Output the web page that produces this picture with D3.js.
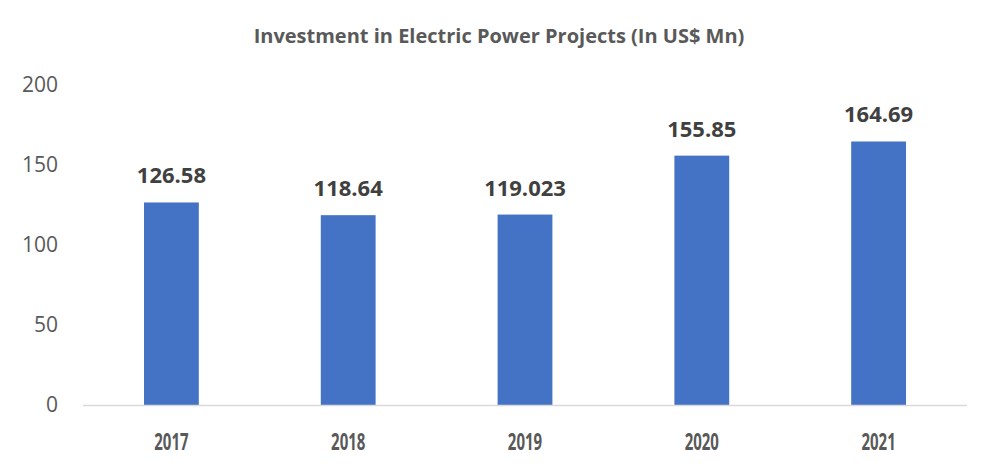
<!DOCTYPE html>
<html>
<head>
<meta charset="utf-8">
<script src="https://cdn.jsdelivr.net/npm/d3@7"></script>
<style>
  body { margin: 0; background: #fff; }
</style>
</head>
<body>
<script>
/*data*/
const years = ['2017', '2018', '2019', '2020', '2021'];
const investment = [126.58, 118.64, 119.023, 155.85, 164.69];
const valueLabels = ['126.58', '118.64', '119.023', '155.85', '164.69'];
const yTicks = [0, 50, 100, 150, 200];

/*canvas size*/
const width = 1000;
const height = 471;
const padding = { top: 85, bottom: 66, left: 83, right: 33 };

const svg = d3.select('body')
    .append('svg')
    .attr('width', width)
    .attr('height', height);

/*scales*/
const xScale = d3.scaleBand()
    .domain(years)
    .range([padding.left, width - padding.right])
    .paddingInner(0.69)
    .paddingOuter(0.345);

const yScale = d3.scaleLinear()
    .domain([0, 200])
    .range([height - padding.bottom, padding.top]);

/*title*/
svg.append('text')
    .attr('x', 499)
    .attr('y', 43)
    .attr('text-anchor', 'middle')
    .attr('font-family', 'Open Sans')
    .attr('font-weight', 700)
    .attr('font-size', 20)
    .attr('fill', '#595959')
    .text('Investment in Electric Power Projects (In US$ Mn)');

/*y axis labels (no line)*/
const yAxis = svg.append('g')
    .attr('transform', `translate(${padding.left}, 0)`)
    .call(d3.axisLeft(yScale).tickValues(yTicks).tickSize(0).tickPadding(25));
yAxis.select('.domain').remove();
yAxis.selectAll('text')
    .attr('font-family', 'Open Sans')
    .attr('font-size', 21)
    .attr('fill', '#595959');

/*bars*/
svg.append('g').selectAll('rect')
    .data(years)
    .enter().append('rect')
    .attr('x', d => xScale(d))
    .attr('y', (d, i) => yScale(investment[i]))
    .attr('width', xScale.bandwidth())
    .attr('height', (d, i) => yScale(0) - yScale(investment[i]))
    .attr('fill', '#4472C4');

/*x axis line*/
svg.append('line')
    .attr('x1', padding.left)
    .attr('x2', width - padding.right)
    .attr('y1', yScale(0) + 0.5)
    .attr('y2', yScale(0) + 0.5)
    .attr('stroke', '#d9d9d9')
    .attr('stroke-width', 1.5);

/*x labels - tall narrow look*/
svg.append('g').selectAll('text')
    .data(years)
    .enter().append('text')
    .attr('transform', d => `translate(${xScale(d) + xScale.bandwidth() / 2}, 450) scale(1, 1.6)`)
    .attr('text-anchor', 'middle')
    .attr('font-family', 'Open Sans')
    .attr('font-weight', 700)
    .attr('font-size', 15)
    .attr('fill', '#595959')
    .text(d => d);

/*value labels*/
svg.append('g').selectAll('text')
    .data(years)
    .enter().append('text')
    .attr('x', d => xScale(d) + xScale.bandwidth() / 2)
    .attr('y', (d, i) => yScale(investment[i]) - 19)
    .attr('text-anchor', 'middle')
    .attr('font-family', 'Open Sans')
    .attr('font-weight', 700)
    .attr('font-size', 22)
    .attr('fill', '#404040')
    .text((d, i) => valueLabels[i]);
</script>
</body>
</html>
